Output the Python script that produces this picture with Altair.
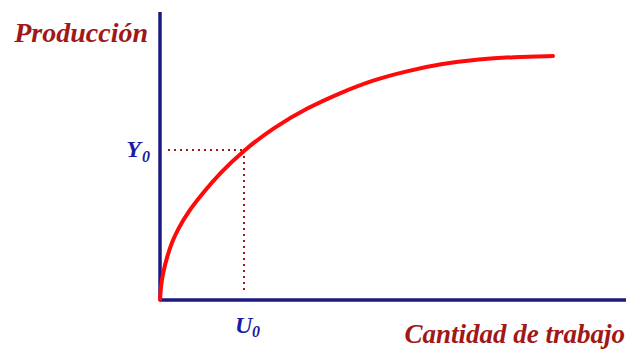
import altair as alt
import pandas as pd

# Production function: labour input vs output (units measured from the origin)
labor = [0, 1, 3, 7, 12, 18, 28, 42, 60, 84, 113, 147, 180, 213, 247, 280, 320, 353, 393]
output = [0, 15, 27, 43, 58, 71, 88, 106, 127, 150, 172, 192, 207, 220, 229, 236, 241, 243, 244]

U0 = 84
Y0 = 150
x_axis_end = 466
y_axis_end = 288

y_title = "Producción"
x_title = "Cantidad de trabajo"

x_dom = [-152, 466]
y_dom = [-52, 292]

NAVY = "#1a1a80"
LABELNAVY = "#1c1ca0"
DARKRED = "#a01818"
RED = "#ff0a0a"
FONT = "Liberation Serif"

xs = alt.Scale(domain=x_dom, nice=False, zero=False)
ys = alt.Scale(domain=y_dom, nice=False, zero=False)

curve_df = pd.DataFrame({"x": labor, "y": output})
axes_df = pd.DataFrame({"x": [0, 0], "y": [0, 0], "x2": [x_axis_end, 0], "y2": [0, y_axis_end]})
guide_df = pd.DataFrame({"x": [8, U0], "y": [Y0, Y0], "x2": [U0, U0], "y2": [Y0, 6]})

def pos(df):
    return dict(
        x=alt.X("x:Q", scale=xs, axis=None),
        y=alt.Y("y:Q", scale=ys, axis=None),
    )

axes = alt.Chart(axes_df).mark_rule(color=NAVY, strokeWidth=3.5).encode(
    **pos(axes_df), x2="x2:Q", y2="y2:Q"
)
guides = alt.Chart(guide_df).mark_rule(color=DARKRED, strokeWidth=2, strokeDash=[2, 4]).encode(
    **pos(guide_df), x2="x2:Q", y2="y2:Q"
)
curve = alt.Chart(curve_df).mark_line(
    color=RED, strokeWidth=4, interpolate="basis", strokeCap="round"
).encode(**pos(curve_df))

def label(text, x, y, color, size, align, dx=0, dy=0):
    df = pd.DataFrame({"x": [x], "y": [y], "t": [text]})
    return alt.Chart(df).mark_text(
        font=FONT, fontStyle="italic", fontWeight="bold", fontSize=size,
        color=color, align=align, baseline="alphabetic", dx=dx, dy=dy,
    ).encode(**pos(df), text="t:N")

texts = [
    label(y_title, 0, y_axis_end, DARKRED, 28, "right", dx=-12, dy=30),
    label(x_title, x_axis_end, 0, DARKRED, 27, "right", dx=-1, dy=43),
    label("Y", 0, Y0, LABELNAVY, 24, "right", dx=-19, dy=7),
    label("0", 0, Y0, LABELNAVY, 16, "left", dx=-18, dy=12),
    label("U", U0, 0, LABELNAVY, 24, "left", dx=-9, dy=33),
    label("0", U0, 0, LABELNAVY, 16, "left", dx=8, dy=37),
]

chart = alt.layer(axes, guides, curve, *texts).properties(
    width=618, height=344, padding=0, autosize="none"
).configure_view(stroke=None)

chart.save("out.html", embed_options={"renderer": "svg", "actions": False})
